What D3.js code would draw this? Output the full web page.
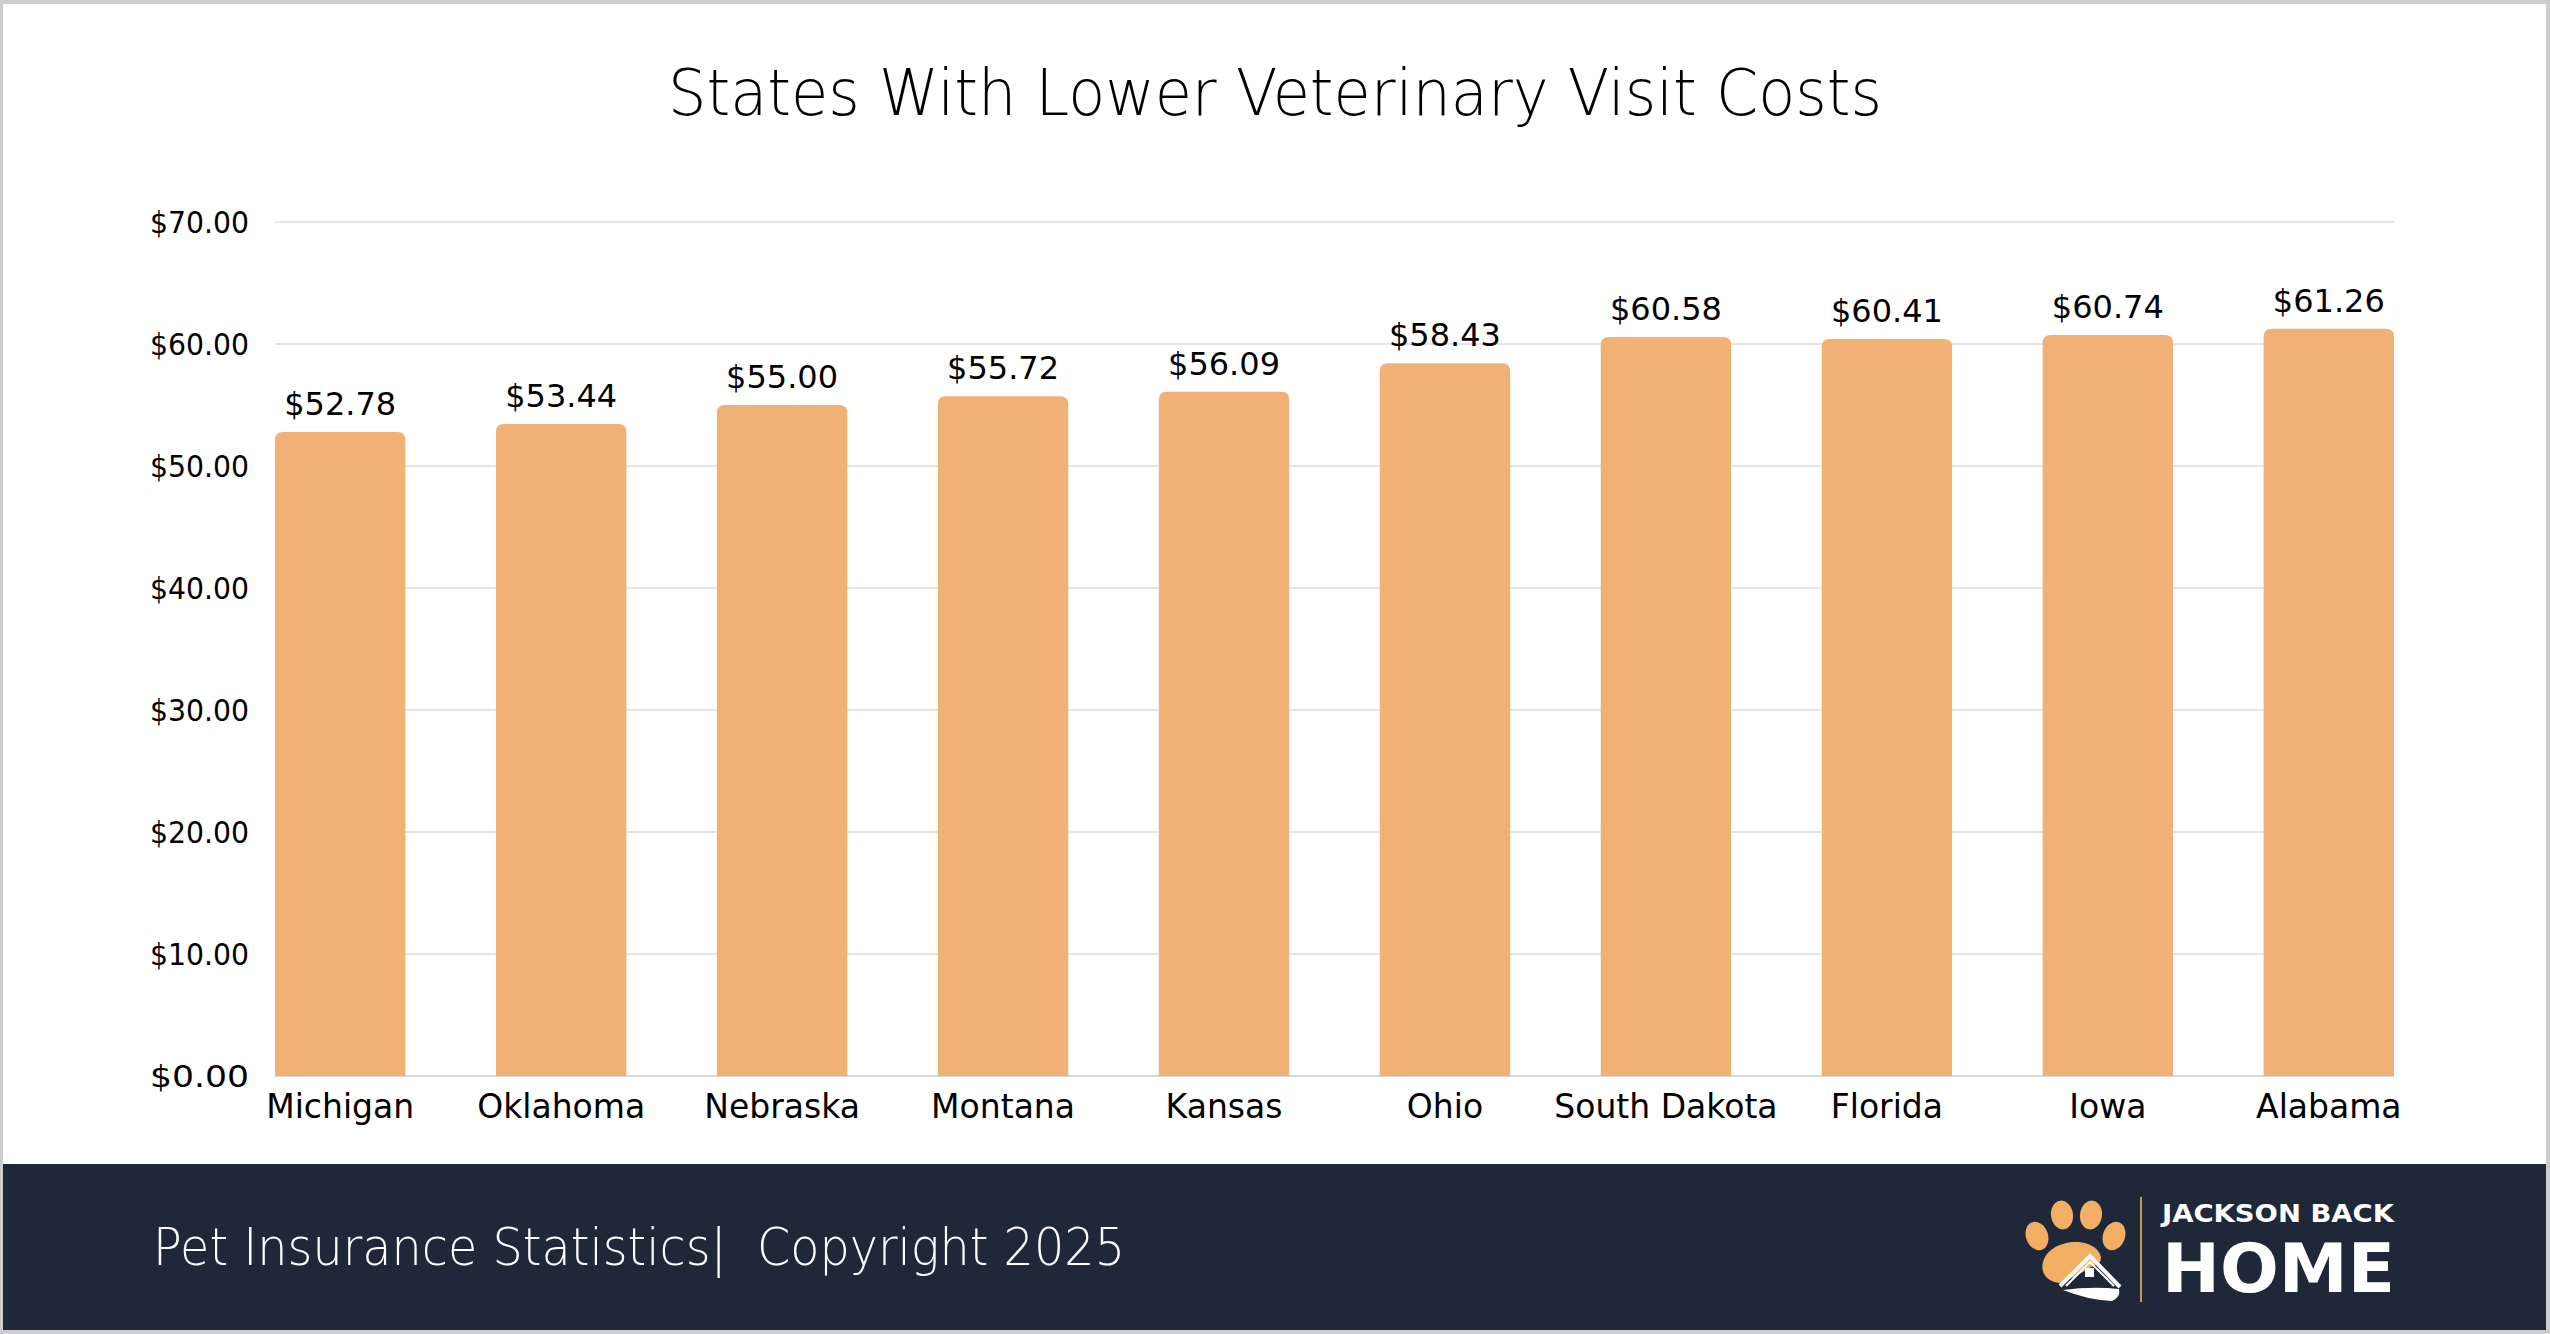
<!DOCTYPE html>
<html>
<head>
<meta charset="utf-8">
<script src="https://cdn.jsdelivr.net/npm/d3@7"></script>
<style>
  html, body { margin: 0; padding: 0; background: #ffffff; }
  svg { display: block; }
</style>
</head>
<body>
<svg id="chart" width="2550" height="1334"></svg>
<script>
// ---- data ----
const states = ["Michigan", "Oklahoma", "Nebraska", "Montana", "Kansas", "Ohio", "South Dakota", "Florida", "Iowa", "Alabama"];
const costs = [52.78, 53.44, 55.00, 55.72, 56.09, 58.43, 60.58, 60.41, 60.74, 61.26];
const yTicks = [0, 10, 20, 30, 40, 50, 60, 70];
const titleText = "States With Lower Veterinary Visit Costs";
const footerText = "Pet Insurance Statistics|  Copyright 2025";
const brandTop = "JACKSON BACK";
const brandBottom = "HOME";

// ---- layout ----
const W = 2550, H = 1334;
const FONT = "'DejaVu Sans', 'Noto Sans', sans-serif";
const svg = d3.select("#chart");

// outer gray frame
svg.append("rect").attr("x", 0).attr("y", 0).attr("width", W).attr("height", H).attr("fill", "#cdcdcd");
svg.append("rect").attr("x", 3).attr("y", 4).attr("width", W - 7).attr("height", H - 8).attr("fill", "#ffffff");

// title
svg.append("text")
  .attr("x", W / 2).attr("y", 115)
  .attr("text-anchor", "middle")
  .attr("font-family", FONT).attr("font-size", 64).attr("font-weight", 300)
  .attr("textLength", 1214).attr("lengthAdjust", "spacingAndGlyphs")
  .attr("fill", "#000").text(titleText);

// scales
const x = d3.scaleBand().domain(states).range([275, 2394]).paddingInner(0.41).paddingOuter(0);
const y = d3.scaleLinear().domain([0, 70]).range([1076, 222]);

// gridlines
svg.append("g").selectAll("line").data(yTicks).join("line")
  .attr("x1", 275).attr("x2", 2394)
  .attr("y1", d => y(d)).attr("y2", d => y(d))
  .attr("stroke", d => d === 0 ? "#d9d9d9" : "#e5e5e5").attr("stroke-width", 2);

// y axis labels
const yAxis = d3.axisLeft(y).tickValues(yTicks).tickSize(0).tickPadding(0)
  .tickFormat(d => "$" + d3.format(".2f")(d));
const gy = svg.append("g").attr("transform", "translate(249,0)").call(yAxis);
gy.select(".domain").remove();
gy.selectAll("text").attr("font-family", FONT).attr("font-size", 30).attr("fill", "#000").attr("dy", "0.36em")
  .attr("textLength", 99).attr("lengthAdjust", "spacingAndGlyphs");

// bars with rounded top corners
const r = 8;
function barPath(d, i) {
  const x0 = x(states[i]), w = x.bandwidth();
  const yt = y(d), yb = y(0);
  return `M${x0},${yb}V${yt + r}Q${x0},${yt} ${x0 + r},${yt}H${x0 + w - r}Q${x0 + w},${yt} ${x0 + w},${yt + r}V${yb}Z`;
}
svg.append("g").selectAll("path").data(costs).join("path")
  .attr("d", barPath).attr("fill", "#F1B076");

// value labels
svg.append("g").selectAll("text").data(costs).join("text")
  .attr("x", (d, i) => x(states[i]) + x.bandwidth() / 2)
  .attr("y", d => y(d) - 17)
  .attr("text-anchor", "middle")
  .attr("font-family", FONT).attr("font-size", 32).attr("fill", "#000")
  .text(d => "$" + d3.format(".2f")(d));

// x axis labels
const xAxis = d3.axisBottom(x).tickSize(0).tickPadding(0);
const gx = svg.append("g").attr("transform", "translate(0,1118)").call(xAxis);
gx.select(".domain").remove();
gx.selectAll("text").attr("font-family", FONT).attr("font-size", 33).attr("fill", "#000").attr("dy", 0);

// footer
svg.append("rect").attr("x", 3).attr("y", 1164).attr("width", W - 7).attr("height", 166).attr("fill", "#1E2839");
svg.append("text")
  .attr("x", 153).attr("y", 1265)
  .attr("font-family", FONT).attr("font-size", 51).attr("font-weight", 300)
  .attr("textLength", 972).attr("lengthAdjust", "spacingAndGlyphs")
  .attr("fill", "#ffffff").attr("xml:space", "preserve").style("white-space", "pre").text(footerText);

// logo
const logo = svg.append("g");
const orange = "#F2AE62";
[[2037, 1236, -20], [2062, 1215, -8], [2091, 1215, 8], [2114, 1236, 20]].forEach(([cx, cy, rot]) => {
  logo.append("ellipse").attr("cx", 0).attr("cy", 0).attr("rx", 11).attr("ry", 14.5)
    .attr("transform", `translate(${cx},${cy}) rotate(${rot})`).attr("fill", orange);
});
// pad
logo.append("path")
  .attr("d", "M2076,1242 C2060,1242 2046,1250 2043,1262 C2040,1274 2048,1282 2060,1283 L2076,1276 L2100,1262 C2104,1254 2094,1242 2076,1242 Z")
  .attr("fill", orange);
// house roof + swoosh
logo.append("path").attr("d", "M2060,1286 L2090,1256 L2120,1287").attr("fill", "none").attr("stroke", "#ffffff").attr("stroke-width", 4);
logo.append("path").attr("d", "M2066,1286 L2090,1262 L2114,1286").attr("fill", "none").attr("stroke", "#ffffff").attr("stroke-width", 2);
logo.append("path").attr("d", "M2063,1290 Q2092,1286 2119,1289 Q2121,1297 2112,1301 Q2088,1300 2063,1290 Z").attr("fill", "#ffffff");
logo.append("rect").attr("x", 2085).attr("y", 1268).attr("width", 9).attr("height", 9).attr("fill", "#ffffff");
logo.append("line").attr("x1", 2141).attr("x2", 2141).attr("y1", 1197).attr("y2", 1302).attr("stroke", "#C99050").attr("stroke-width", 2);
logo.append("text").attr("x", 2162).attr("y", 1222)
  .attr("font-family", "'DejaVu Sans', sans-serif").attr("font-weight", 700).attr("font-size", 24)
  .attr("textLength", 232).attr("lengthAdjust", "spacingAndGlyphs").attr("fill", "#ffffff").text(brandTop);
logo.append("text").attr("x", 2162).attr("y", 1292)
  .attr("font-family", "'DejaVu Sans', sans-serif").attr("font-weight", 700).attr("font-size", 68)
  .attr("textLength", 233).attr("lengthAdjust", "spacingAndGlyphs").attr("fill", "#ffffff").text(brandBottom);
</script>
</body>
</html>
